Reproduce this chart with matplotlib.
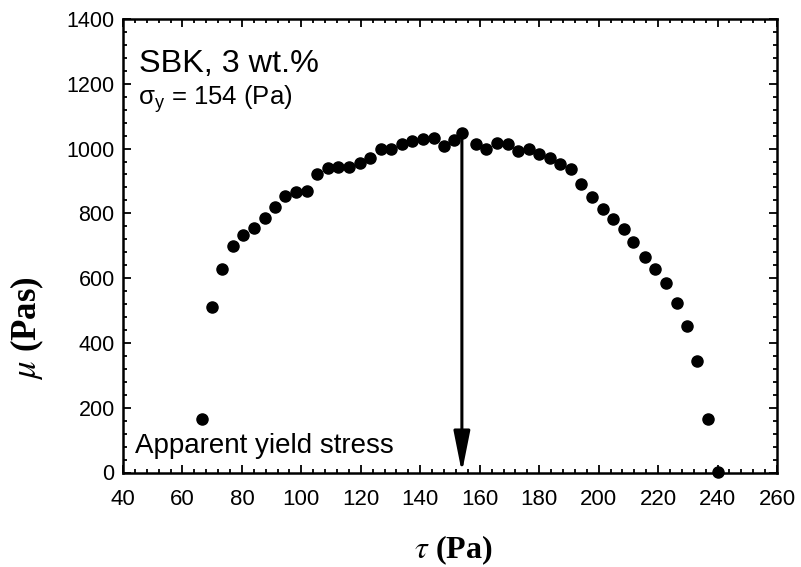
import matplotlib
matplotlib.use("Agg")
import matplotlib.pyplot as plt
from matplotlib.ticker import MultipleLocator

plt.rcParams["font.family"] = ["Liberation Sans", "DejaVu Sans"]
plt.rcParams["mathtext.fontset"] = "stix"

# Shear stress (Pa) and apparent viscosity (Pa s)
tau = [66.5, 69.9, 73.4, 76.9, 80.5, 84.1, 87.6, 91.2, 94.6, 98.2,
       101.9, 105.4, 109.1, 112.4, 115.9, 119.6, 123.2, 126.8, 130.2, 133.8,
       137.3, 141.0, 144.5, 148.1, 151.5, 154.0, 158.8, 162.1, 165.8, 169.4,
       172.9, 176.5, 180.1, 183.5, 187.1, 190.7, 194.2, 197.8, 201.4, 204.9,
       208.5, 211.7, 215.5, 219.1, 222.7, 226.2, 229.8, 233.2, 236.9, 240.0]
mu = [164, 512, 628, 698, 733, 754, 787, 821, 854, 867,
      869, 922, 939, 943, 943, 956, 972, 999, 999, 1013,
      1024, 1030, 1032, 1007, 1027, 1048, 1013, 999, 1018, 1013,
      994, 999, 982, 970, 952, 937, 890, 852, 813, 783,
      751, 711, 666, 627, 584, 522, 453, 344, 164, 2]

yield_stress = 154
sample_label = "SBK, 3 wt.%"

fig = plt.figure(figsize=(8.01, 5.67), dpi=100)
ax = fig.add_axes([123 / 801, 1 - 472.5 / 567, (777 - 123) / 801, (472.5 - 19) / 567])

ax.plot(tau, mu, "o", color="black", markersize=8, clip_on=False, zorder=3)

peak = mu[tau.index(float(yield_stress))]
ax.annotate("", xy=(yield_stress, 0), xytext=(yield_stress, peak),
            arrowprops=dict(arrowstyle="-|>,head_length=1.25,head_width=0.25",
                            lw=2.2, color="black", mutation_scale=20,
                            shrinkA=0, shrinkB=0), zorder=2)

ax.set_xlim(40, 260)
ax.set_ylim(0, 1400)
ax.xaxis.set_major_locator(MultipleLocator(20))
ax.xaxis.set_minor_locator(MultipleLocator(4))
ax.yaxis.set_major_locator(MultipleLocator(200))
ax.yaxis.set_minor_locator(MultipleLocator(40))

for s in ax.spines.values():
    s.set_linewidth(1.8)
ax.tick_params(which="both", direction="in", top=True, right=True, width=1.3)
ax.tick_params(which="major", length=5.5)
ax.tick_params(which="minor", length=3.2)
ax.tick_params(axis="y", labelsize=15.5, pad=6)
ax.tick_params(axis="x", labelsize=16, pad=12)

ax.text(0.024, 0.884, sample_label, transform=ax.transAxes, fontsize=23.3,
        ha="left", va="baseline")
ax.text(0.023, 0.81, r"$\mathregular{\sigma_y}$ = " + f"{yield_stress} (Pa)",
        transform=ax.transAxes, fontsize=18.5, ha="left", va="baseline")
ax.text(0.018, 0.042, "Apparent yield stress", transform=ax.transAxes,
        fontsize=20, ha="left", va="baseline")

ax.set_xlabel(r"$\tau$ (Pa)", family="Liberation Serif", fontweight="bold",
              fontsize=23)
ax.xaxis.set_label_coords(0.505, -0.135)
ax.set_ylabel(r"$\mu$ (Pas)", family="Liberation Serif", fontweight="bold",
              fontsize=25)
ax.yaxis.set_label_coords(-0.118, 0.318)

fig.savefig("out.png", dpi=100, facecolor="white")
